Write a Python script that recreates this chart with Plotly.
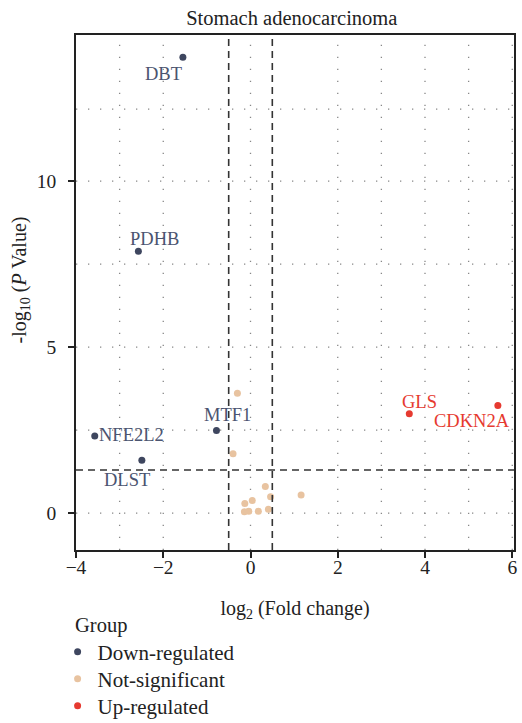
import plotly.graph_objects as go

# ---- data ----
down_genes = ["DBT", "PDHB", "NFE2L2", "MTF1", "DLST"]
down_fc = [-1.55, -2.57, -3.57, -0.78, -2.49]
down_p = [13.73, 7.89, 2.32, 2.49, 1.59]

up_genes = ["GLS", "CDKN2A"]
up_fc = [3.64, 5.67]
up_p = [2.99, 3.24]

ns_fc = [-0.30, -0.40, 0.34, 0.46, 1.16, 0.04, -0.13, -0.14, -0.04, 0.18, 0.41]
ns_p = [3.61, 1.79, 0.80, 0.49, 0.55, 0.38, 0.29, 0.04, 0.06, 0.06, 0.12]

fc_cutoffs = [-0.5, 0.5]
p_cutoff = 1.30103
x_tick_vals = [-4, -2, 0, 2, 4, 6]
y_tick_vals = [0, 5, 10]
x_grid = [-3, -2, 0, 2, 3, 4, 5, 6]
y_grid = [0, 2.5, 5, 7.5, 10, 12.17]

# label offsets in pixels (style)
label_shift = {
    "DBT": (-19, -17), "PDHB": (16, 12), "NFE2L2": (37, 1), "MTF1": (11, 15),
    "DLST": (-15, -20), "GLS": (10, 12), "CDKN2A": (-26, -15),
}

C_DOWN = "#3e465f"
C_NS = "#e8c3a0"
C_UP = "#e63a30"
FONT = "Liberation Serif"

fig = go.Figure()
fig.add_trace(go.Scatter(x=down_fc, y=down_p, mode="markers", name="Down-regulated",
                         marker=dict(color=C_DOWN, size=7), legend="legend"))
fig.add_trace(go.Scatter(x=ns_fc, y=ns_p, mode="markers", name="Not-significant",
                         marker=dict(color=C_NS, size=7), legend="legend2"))
fig.add_trace(go.Scatter(x=up_fc, y=up_p, mode="markers", name="Up-regulated",
                         marker=dict(color=C_UP, size=7), legend="legend3"))

for g, xv, yv in zip(down_genes, down_fc, down_p):
    dx, dy = label_shift[g]
    fig.add_annotation(x=xv, y=yv, text=g, showarrow=False, xshift=dx, yshift=dy,
                       font=dict(family=FONT, size=18.5, color="#4b5470"))
for g, xv, yv in zip(up_genes, up_fc, up_p):
    dx, dy = label_shift[g]
    fig.add_annotation(x=xv, y=yv, text=g, showarrow=False, xshift=dx, yshift=dy,
                       font=dict(family=FONT, size=18.5, color=C_UP))

# dotted grid
for gx in x_grid:
    fig.add_shape(type="line", xref="x", yref="paper", x0=gx, x1=gx, y0=0, y1=1,
                  line=dict(color="#888888", width=1.3, dash="1.3px,10.7px"), layer="below")
for gy in y_grid:
    fig.add_shape(type="line", xref="paper", yref="y", x0=0, x1=1, y0=gy, y1=gy,
                  line=dict(color="#888888", width=1.3, dash="1.3px,10.7px"), layer="below")

# cutoff dashed lines
for cx in fc_cutoffs:
    fig.add_shape(type="line", xref="x", yref="paper", x0=cx, x1=cx, y0=0, y1=1,
                  line=dict(color="#333333", width=1.6, dash="7px,5px"))
fig.add_shape(type="line", xref="paper", yref="y", x0=0, x1=1, y0=p_cutoff, y1=p_cutoff,
              line=dict(color="#333333", width=1.6, dash="7px,5px"))

# y-axis title and legend heading as annotations
fig.add_annotation(xref="paper", yref="paper", x=-0.127, y=0.524, textangle=-90,
                   text="-log<sub>10</sub> (<i>P</i> Value)", showarrow=False,
                   xanchor="center", yanchor="middle",
                   font=dict(family=FONT, size=20, color="#222222"))
fig.add_annotation(xref="paper", yref="paper", x=-0.006, y=-0.146,
                   text="Group", showarrow=False, xanchor="left", yanchor="middle",
                   font=dict(family=FONT, size=20.5, color="#222222"))

H = 723.0
leg_common = dict(orientation="v", x=-0.042, xanchor="left", xref="paper", yref="container",
                  yanchor="middle", font=dict(family=FONT, size=21, color="#222222"),
                  bgcolor="rgba(0,0,0,0)")

fig.update_layout(
    width=522, height=723,
    margin=dict(l=76, r=5, t=35, b=173),
    plot_bgcolor="white", paper_bgcolor="white",
    font=dict(family=FONT, size=20, color="#222222"),
    title=dict(text="Stomach adenocarcinoma", x=0.559, xanchor="center",
               y=0.975, yanchor="middle", font=dict(family=FONT, size=20.5, color="#222222")),
    xaxis=dict(range=[-4, 6.04], tickvals=x_tick_vals, showgrid=False, zeroline=False,
               showline=True, linecolor="#222222", linewidth=1.5, mirror=True,
               ticks="outside", ticklen=6, tickcolor="#222222", tickwidth=1.5,
               ticklabelstandoff=-7, tickfont=dict(family=FONT, size=19.5),
               title=dict(text="log<sub>2</sub> (Fold change)", standoff=24,
                          font=dict(family=FONT, size=20))),
    yaxis=dict(range=[-1.11, 14.4], tickvals=y_tick_vals, showgrid=False, zeroline=False,
               showline=True, linecolor="#222222", linewidth=1.5, mirror=True,
               ticks="outside", ticklen=6, tickcolor="#222222", tickwidth=1.5,
               ticklabelstandoff=8, tickfont=dict(family=FONT, size=19.5)),
    showlegend=True,
    legend=dict(y=1 - 652 / H, **leg_common),
    legend2=dict(y=1 - 679 / H, **leg_common),
    legend3=dict(y=1 - 706 / H, **leg_common),
)

fig.write_html("out.html")
